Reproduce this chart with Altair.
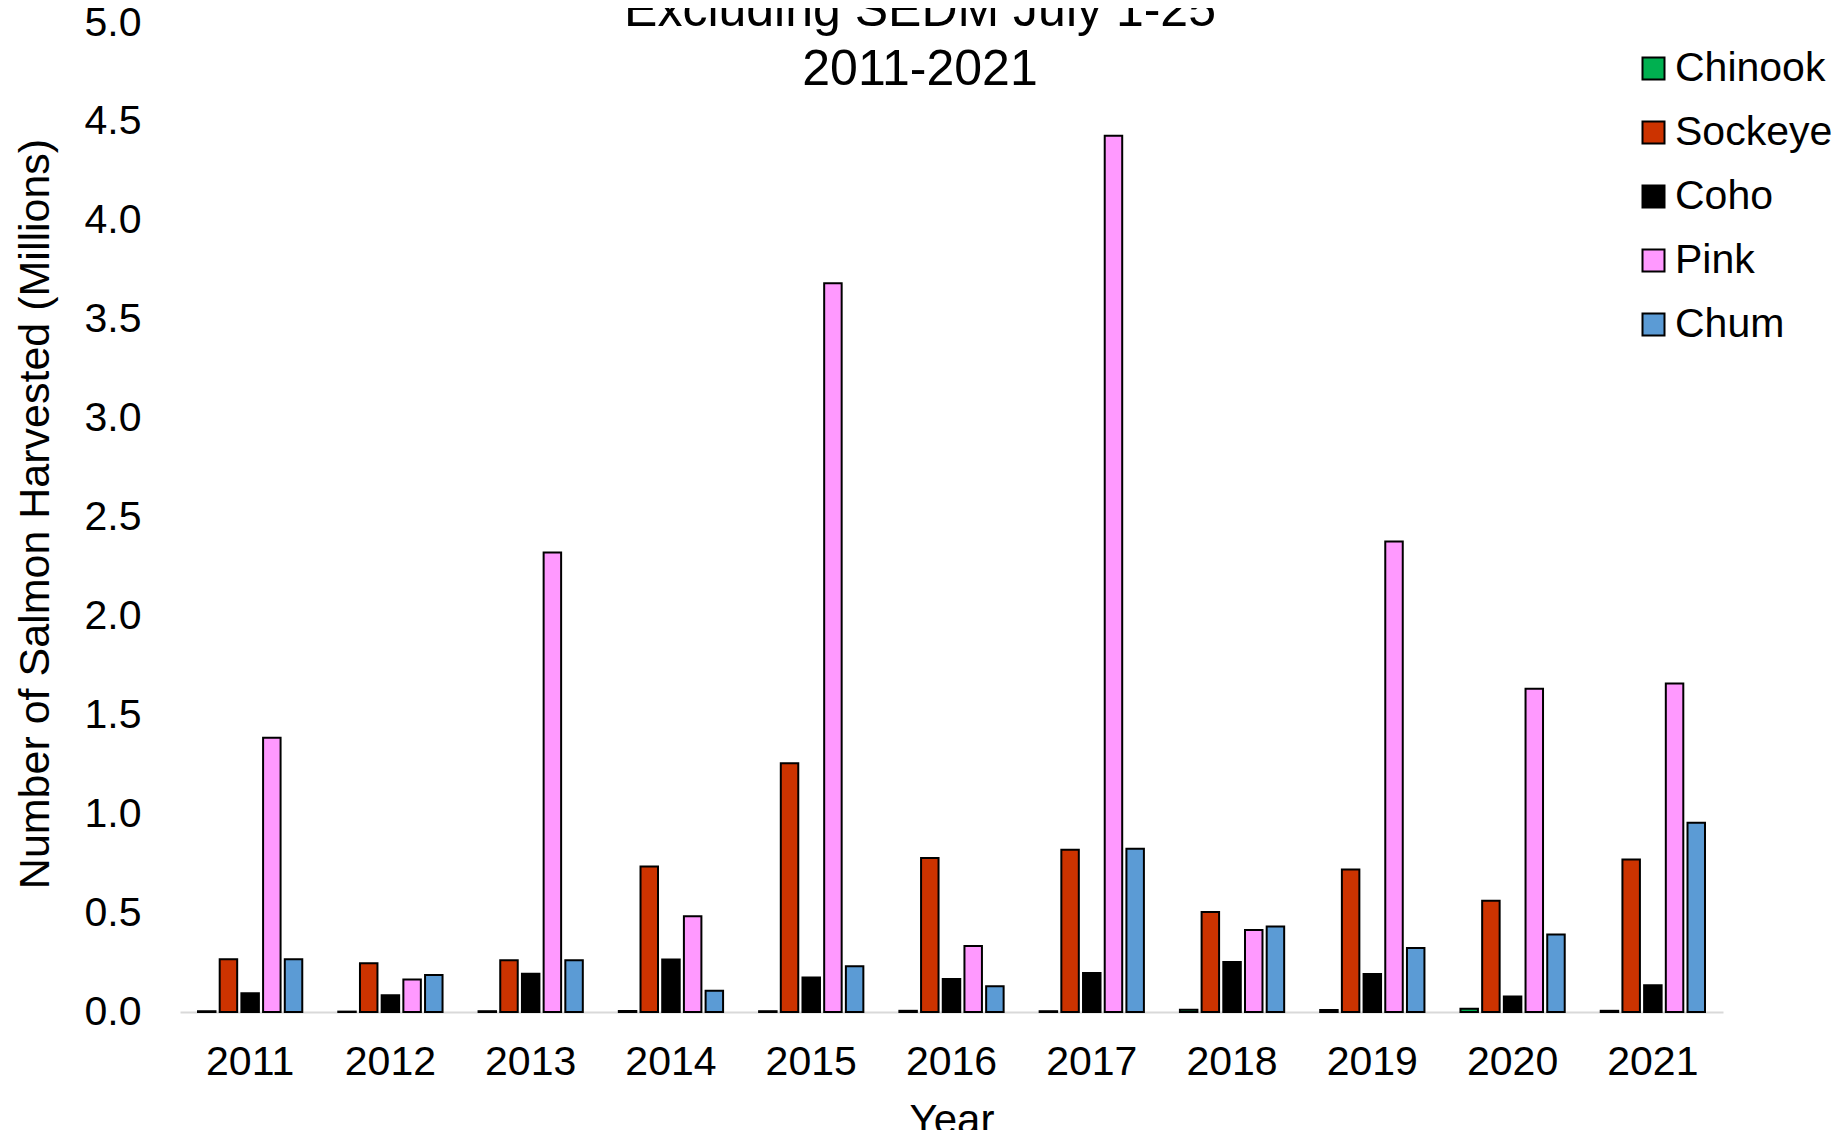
import altair as alt
import pandas as pd

years = [str(y) for y in range(2011, 2022)]
species = ["Chinook", "Sockeye", "Coho", "Pink", "Chum"]
colors = ["#00B050", "#CC3300", "#000000", "#FF99FF", "#5B9BD5"]

chinook = [0.004, 0.002, 0.004, 0.005, 0.004, 0.006, 0.004, 0.012, 0.010, 0.017, 0.006]
sockeye = [0.267, 0.247, 0.262, 0.736, 1.257, 0.778, 0.820, 0.506, 0.720, 0.562, 0.771]
coho = [0.095, 0.085, 0.194, 0.265, 0.174, 0.167, 0.197, 0.253, 0.192, 0.078, 0.135]
pink = [1.387, 0.164, 2.323, 0.484, 3.684, 0.334, 4.430, 0.415, 2.379, 1.634, 1.661]
chum = [0.267, 0.187, 0.262, 0.108, 0.231, 0.130, 0.825, 0.432, 0.324, 0.392, 0.957]

y_ticks = [0, 0.5, 1, 1.5, 2, 2.5, 3, 3.5, 4, 4.5, 5]
title_lines = ["Excluding SEDM July 1-25", "2011-2021"]
y_title = "Number of Salmon Harvested (Millions)"
x_title = "Year"

series = {"Chinook": chinook, "Sockeye": sockeye, "Coho": coho, "Pink": pink, "Chum": chum}
rows = []
for sp in species:
    for yr, v in zip(years, series[sp]):
        rows.append({"Year": yr, "Species": sp, "Value": v})
df = pd.DataFrame(rows)

FONT = "Liberation Sans"
W, H = 1543, 989

bars = alt.Chart(df).mark_bar(stroke="black", strokeWidth=2).encode(
    x=alt.X("Year:N", sort=years, title=x_title,
            scale=alt.Scale(paddingInner=0, paddingOuter=0),
            axis=alt.Axis(labelAngle=0, labelFontSize=41, labelPadding=30,
                          ticks=False, tickSize=0, domainColor="#d9d9d9",
                          domainWidth=2, titleFontSize=42, titleFontWeight="normal",
                          titleY=121, titleBaseline="alphabetic",
                          labelColor="black", titleColor="black")),
    xOffset=alt.XOffset("Species:N", sort=species,
                        scale=alt.Scale(paddingInner=0.194, paddingOuter=0.83)),
    y=alt.Y("Value:Q", title=y_title,
            scale=alt.Scale(domain=[0, 5], nice=False),
            axis=alt.Axis(values=y_ticks, format=".1f", labelFontSize=41,
                          domain=False, ticks=False, tickSize=0, grid=False,
                          labelPadding=39, titleFontSize=43, titleFontWeight="normal",
                          titleAngle=-90, titleX=-132, titleY=H / 2 - 4,
                          titleAlign="center", titleBaseline="alphabetic",
                          labelColor="black", titleColor="black")),
    color=alt.Color("Species:N", sort=species,
                    scale=alt.Scale(domain=species, range=colors),
                    legend=alt.Legend(title=None, orient="none", legendX=1453, legendY=25,
                                      labelFontSize=41, symbolType="square",
                                      symbolSize=484, symbolStrokeColor="black",
                                      symbolStrokeWidth=2, symbolOpacity=1,
                                      rowPadding=22, labelOffset=1,
                                      labelColor="black")),
)

title_df = pd.DataFrame({"k": [0]})
title_text = alt.Chart(title_df).mark_text(
    fontSize=50, font=FONT, align="center", baseline="alphabetic",
    lineHeight=59, color="black"
).encode(
    x=alt.value(740), y=alt.value(3), text=alt.value(title_lines)
)

chart = alt.layer(bars, title_text).properties(
    width=W, height=H,
    autosize=alt.AutoSizeParams(type="none"),
    padding={"left": 172, "top": 15, "right": 112, "bottom": 118},
).configure_view(stroke=None).configure_axis(
    labelFont=FONT, titleFont=FONT
).configure_legend(labelFont=FONT)

chart.save("out.html", embed_options={"renderer": "svg", "actions": False})
